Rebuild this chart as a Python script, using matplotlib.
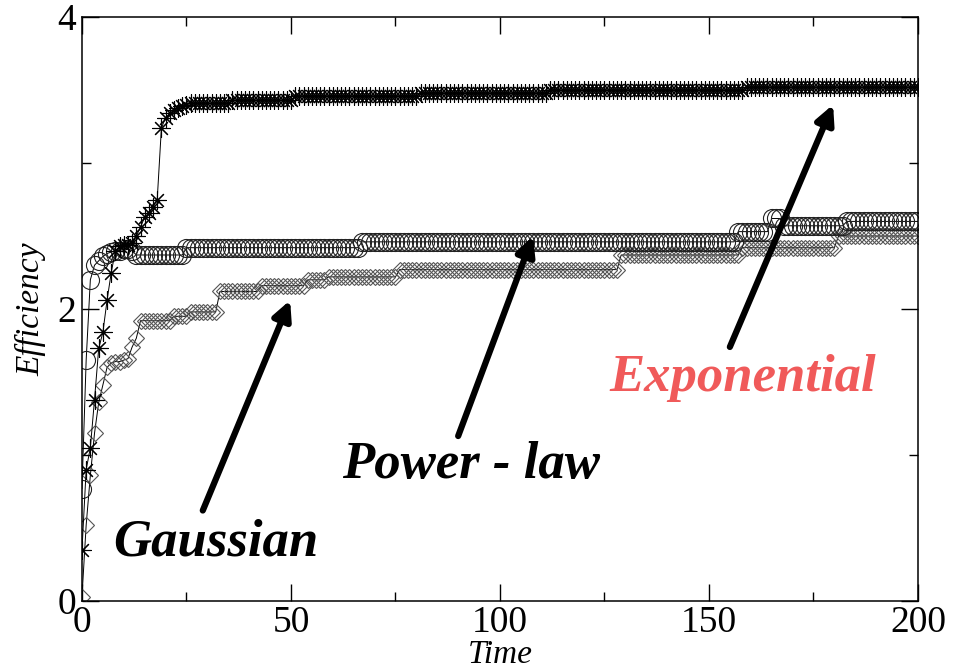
import numpy as np
import matplotlib
matplotlib.use("Agg")
import matplotlib.pyplot as plt

plt.rcParams['font.family'] = ['Liberation Serif', 'DejaVu Serif']

# time steps
t = np.arange(201)

# Exponential (asterisks): first steps, then plateaus (level, last time step)
exp_head = [0.35, 0.90, 1.05, 1.38, 1.73, 1.84, 2.06, 2.25, 2.40, 2.43,
            2.44, 2.44, 2.45, 2.50, 2.56, 2.63, 2.66, 2.70, 2.75, 3.24,
            3.31, 3.34, 3.36, 3.38, 3.39, 3.40]
exp_levels = [3.41, 3.43, 3.46, 3.48, 3.50, 3.52]
exp_ends = [35, 50, 80, 111, 158, 200]

# Power-law (circles)
pow_head = [0.77, 1.65, 2.20, 2.30, 2.33, 2.36, 2.38, 2.39, 2.40, 2.40,
            2.41, 2.41, 2.40]
pow_levels = [2.37, 2.42, 2.46, 2.53, 2.62, 2.57, 2.60]
pow_ends = [24, 66, 156, 164, 167, 182, 200]

# Gaussian (diamonds)
gau_head = [0.03, 0.52, 0.86, 1.15, 1.36, 1.48, 1.60, 1.63, 1.64, 1.64,
            1.65, 1.66, 1.74, 1.80, 1.92]
gau_levels = [1.92, 1.95, 1.98, 2.12, 2.16, 2.20, 2.22, 2.27, 2.37, 2.42, 2.50]
gau_ends = [21, 25, 32, 42, 53, 58, 75, 128, 157, 180, 200]

labels = ['Gaussian', 'Power - law', 'Exponential']
label_xy = [(32, 0.40), (93, 0.93), (158, 1.53)]
arrow_tail = [(28.9, 0.62), (90.0, 1.13), (155.0, 1.74)]
arrow_tip = [(49.8, 2.06), (107.9, 2.50), (179.7, 3.40)]
label_colors = ['black', 'black', '#f05a5a']


def build(head, levels, ends):
    y = list(head)
    for lev, end in zip(levels, ends):
        y += [lev] * (end + 1 - len(y))
    return np.array(y)


y_exp = build(exp_head, exp_levels, exp_ends)
y_pow = build(pow_head, pow_levels, pow_ends)
y_gau = build(gau_head, gau_levels, gau_ends)

fig = plt.figure(figsize=(9.6, 6.69), dpi=100)
ax = fig.add_axes([0.0854, 0.1016, 0.8708, 0.873])

ax.plot(t, y_gau, color='black', lw=0.7, marker='D', ms=8, mfc='none',
        mec='#555555', mew=0.8)
ax.plot(t, y_pow, color='black', lw=0.7, marker='o', ms=13, mfc='none',
        mec='#222222', mew=0.8)
ax.plot(t, y_exp, color='black', lw=0.7, marker=(8, 2, 0), ms=13,
        mec='black', mew=0.8)

for lab, xy, tail, tip, c in zip(labels, label_xy, arrow_tail, arrow_tip, label_colors):
    ax.annotate('', xy=tip, xytext=tail,
                arrowprops=dict(arrowstyle='-|>', lw=4.5, color='black',
                                mutation_scale=28, shrinkA=0, shrinkB=0))
    ax.text(xy[0], xy[1], lab, color=c, fontsize=38, fontweight='bold',
            fontstyle='italic', ha='center', va='center')

ax.set_xlim(0, 200)
ax.set_ylim(0, 4)
ax.set_xticks([0, 50, 100, 150, 200])
ax.set_xticks([25, 75, 125, 175], minor=True)
ax.set_yticks([0, 2, 4])
ax.set_yticks([1, 3], minor=True)
ax.tick_params(which='both', direction='in', top=True, right=True,
               labelsize=27, width=1)
ax.tick_params(which='major', length=12)
ax.tick_params(which='minor', length=6.5)
ax.tick_params(axis='y', pad=4)
ax.tick_params(axis='x', pad=3)
for s in ax.spines.values():
    s.set_linewidth(1.1)

ax.set_xlabel('Time', fontsize=24, fontstyle='italic', labelpad=0)
ax.set_ylabel('Efficiency', fontsize=24, fontstyle='italic', labelpad=8)

fig.savefig('out.png', dpi=100)
